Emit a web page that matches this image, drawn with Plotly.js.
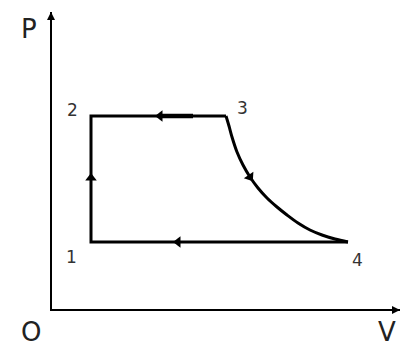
<!DOCTYPE html>
<html>
<head>
<meta charset="utf-8">
<script src="https://cdn.plot.ly/plotly-3.0.1.min.js"></script>
<style>html,body{margin:0;padding:0;background:#fff;}#chart{width:403px;height:347px;}</style>
</head>
<body>
<div id="chart"></div>
<script>
// Cycle corner points (V, P)
const stateLabels = ["1", "2", "3", "4"];
const stateV = [40, 40, 175, 297];
const stateP = [68, 194, 194, 68];
// Expansion curve 3 -> 4
const curveV = [175, 178, 181, 186, 192, 199, 207, 216, 226, 236, 247, 259, 271, 284, 297];
const curveP = [194, 184, 173, 158, 145, 133, 122, 112, 103, 95, 87, 80, 75, 71, 68];
// Label positions
const labelV = [20, 21, 191, 306];
const labelP = [53, 200, 202, 50];
// Direction marks
const arrowV = [40, 127, 199, 109];
const arrowP = [132, 68, 133, 194];
const arrowSym = ["triangle-up", "triangle-left", "triangle-down", "triangle-left"];
const arrowAng = [0, 0, -34, 0];
const topMarkV = [108, 142];
const topMarkP = [194, 194];
// Axes
const axisEndV = 349;
const axisEndP = 298;

const traces = [];
traces.push({x: [stateV[3], stateV[0], stateV[1], stateV[2]], y: [stateP[3], stateP[0], stateP[1], stateP[2]],
  mode: "lines", line: {color: "#000", width: 3}, hoverinfo: "skip"});
traces.push({x: curveV, y: curveP, mode: "lines", line: {color: "#000", width: 3, shape: "spline"}, hoverinfo: "skip"});
traces.push({x: topMarkV, y: topMarkP, mode: "lines", line: {color: "#000", width: 4.5}, hoverinfo: "skip"});
traces.push({x: arrowV, y: arrowP, mode: "markers",
  marker: {symbol: arrowSym, angle: arrowAng, size: 10, color: "#000"}, hoverinfo: "skip"});
traces.push({x: [0, 0, axisEndV], y: [axisEndP, 0, 0], mode: "lines", line: {color: "#000", width: 2}, hoverinfo: "skip"});

const ann = [];
for (let i = 0; i < stateLabels.length; i++) {
  ann.push({x: labelV[i], y: labelP[i], xref: "x", yref: "y", text: stateLabels[i], showarrow: false,
    font: {family: "DejaVu Sans", size: 17, color: "#333"}});
}
ann.push({x: -22, y: 281, xref: "x", yref: "y", text: "P", showarrow: false, font: {family: "DejaVu Sans", size: 26, color: "#222"}});
ann.push({x: -20, y: -22, xref: "x", yref: "y", text: "O", showarrow: false, font: {family: "DejaVu Sans", size: 26, color: "#222"}});
ann.push({x: 336, y: -22, xref: "x", yref: "y", text: "V", showarrow: false, font: {family: "DejaVu Sans", size: 26, color: "#222"}});
ann.push({x: 0, y: axisEndP, ax: 0, ay: axisEndP - 20, xref: "x", yref: "y", axref: "x", ayref: "y", text: "",
  showarrow: true, arrowhead: 2, arrowsize: 0.8, arrowwidth: 2, arrowcolor: "#000"});
ann.push({x: axisEndV, y: 0, ax: axisEndV - 20, ay: 0, xref: "x", yref: "y", axref: "x", ayref: "y", text: "",
  showarrow: true, arrowhead: 2, arrowsize: 0.8, arrowwidth: 2, arrowcolor: "#000"});

const layout = {
  width: 403, height: 347,
  margin: {l: 0, r: 0, t: 0, b: 0},
  paper_bgcolor: "#fff", plot_bgcolor: "#fff",
  showlegend: false,
  xaxis: {range: [-51, 352], visible: false, fixedrange: true},
  yaxis: {range: [-37, 310], visible: false, fixedrange: true},
  annotations: ann
};
Plotly.newPlot("chart", traces, layout, {staticPlot: true, displayModeBar: false});
</script>
</body>
</html>
